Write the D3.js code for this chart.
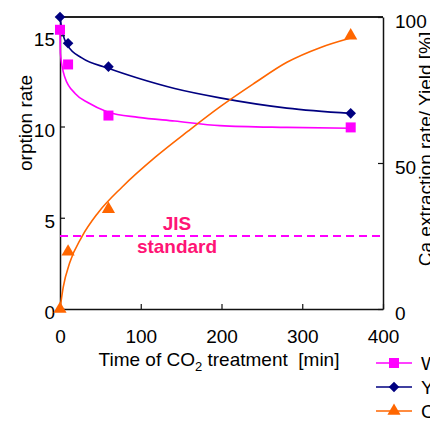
<!DOCTYPE html>
<html>
<head>
<meta charset="utf-8">
<script src="https://cdn.jsdelivr.net/npm/d3@7"></script>
<style>
  html, body { margin: 0; padding: 0; background: #fff; }
  svg { display: block; }
  text { font-family: "Liberation Sans", Arial, sans-serif; fill: #000; }
</style>
</head>
<body>
<svg id="chart" width="430" height="423"></svg>
<script>
// ---- data ----
const timeMin   = [0, 10, 60, 360];
const waterAbs  = [15.3, 13.4, 10.6, 9.95];   // left axis [%]
const yieldPct  = [100, 91, 83, 67];          // right axis [%]
const caExtract = [0, 19.6, 34.2, 93.6];      // right axis [%]

// fitted trend curves: [time, value]
const waterFitT  = [0, 0.5, 6, 19, 35, 59, 97, 142, 198, 281, 360];
const waterFitV  = [15.3, 14.0, 12.7, 11.8, 11.3, 10.8, 10.5, 10.3, 10.05, 9.95, 9.9];
const yieldFitT  = [0, 2.5, 10, 27, 59, 97, 142, 198, 281, 360];
const yieldFitV  = [100, 95.5, 90, 86, 82.5, 79, 75.5, 72.3, 68.8, 67];
const caFitT     = [0, 4, 12, 27, 47, 77, 118, 159, 198, 239, 281, 322, 360];
const caFitV     = [0, 7.5, 15.8, 24.7, 32.9, 41.8, 52, 61, 69.2, 77, 84.5, 89.5, 92.8];

const jisStandard = 4;   // left axis
const xTicks  = [0, 100, 200, 300, 400];
const yLTicks = [0, 5, 10, 15];
const yRTicks = [0, 50, 100];
const seriesNames = ["Water absorption rate", "Yield", "Ca extraction rate"];
const seriesColors = ["#ff00ff", "#000080", "#ff6600"];

// ---- scales ----
const svg = d3.select("#chart");
const X0 = 60, X1 = 383, Y0 = 309, Y1 = 17;
const x  = d3.scaleLinear().domain([0, 400]).range([X0, X1]);
const yL = d3.scaleLinear().domain([0, 16]).range([Y0, Y1]);
const yR = d3.scaleLinear().domain([0, 100]).range([Y0, Y1]);

// ---- frame (top) ----
svg.append("line").attr("x1", X0).attr("x2", X1).attr("y1", Y1).attr("y2", Y1)
  .attr("stroke", "#222").attr("stroke-width", 1.8);

// ---- axes ----
function styleAxis(g) {
  g.selectAll(".domain").attr("stroke", "#111").attr("stroke-width", 1.5);
  g.selectAll(".tick line").attr("stroke", "#111").attr("stroke-width", 1.2);
  g.selectAll(".tick text").attr("font-size", 19).attr("font-family", "Liberation Sans, Arial, sans-serif").attr("fill", "#000");
}
const gL = svg.append("g").attr("transform", `translate(${X0},0)`)
  .call(d3.axisLeft(yL).tickValues(yLTicks).tickSizeInner(-5).tickSizeOuter(0).tickPadding(5));
styleAxis(gL);
gL.selectAll(".tick text").attr("dy", "0.52em");

const gR = svg.append("g").attr("transform", `translate(${X1},0)`)
  .call(d3.axisRight(yR).tickValues(yRTicks).tickSizeInner(-5).tickSizeOuter(0).tickPadding(12));
styleAxis(gR);
gR.selectAll(".tick text").attr("dy", "0.55em");

const gB = svg.append("g").attr("transform", `translate(0,${Y0})`)
  .call(d3.axisBottom(x).tickValues(xTicks).tickSizeInner(-5).tickSizeOuter(0).tickPadding(21));
styleAxis(gB);

// ---- JIS standard ----
svg.append("line")
  .attr("x1", X0).attr("x2", X1).attr("y1", yL(jisStandard)).attr("y2", yL(jisStandard))
  .attr("stroke", "#ff00ff").attr("stroke-width", 2).attr("stroke-dasharray", "8,5");
svg.append("text").attr("x", 177).attr("y", 230).attr("text-anchor", "middle")
  .attr("font-size", 19).attr("font-weight", "bold").style("fill", "#ff1475").text("JIS");
svg.append("text").attr("x", 177).attr("y", 253).attr("text-anchor", "middle")
  .attr("font-size", 19).attr("font-weight", "bold").style("fill", "#ff1475").text("standard");

// ---- fitted curves ----
const lineGen = (ys) => d3.line().x(d => x(d[0])).y(d => ys(d[1])).curve(d3.curveMonotoneX);
const fits = [
  {t: waterFitT, v: waterFitV, s: yL, c: seriesColors[0]},
  {t: yieldFitT, v: yieldFitV, s: yR, c: seriesColors[1]},
  {t: caFitT,    v: caFitV,    s: yR, c: seriesColors[2]}
];
fits.forEach(f => {
  svg.append("path").datum(d3.zip(f.t, f.v))
    .attr("d", lineGen(f.s)).attr("fill", "none")
    .attr("stroke", f.c).attr("stroke-width", 1.6);
});

// ---- markers ----
const sqr = d3.symbol().type(d3.symbolSquare).size(100);
const dia = d3.symbol().type(d3.symbolSquare).size(56);   // rotated 45° below
const tri = d3.symbol().type(d3.symbolTriangle).size(75);
const markers = [
  {v: waterAbs,  s: yL, sym: sqr, c: seriesColors[0], rot: 0},
  {v: yieldPct,  s: yR, sym: dia, c: seriesColors[1], rot: 45},
  {v: caExtract, s: yR, sym: tri, c: seriesColors[2], rot: 0}
];
markers.forEach(m => {
  svg.append("g").selectAll("path").data(d3.zip(timeMin, m.v)).join("path")
    .attr("transform", d => `translate(${x(d[0])},${m.s(d[1])}) rotate(${m.rot})`)
    .attr("d", m.sym).attr("fill", m.c);
});

// ---- axis titles ----
const xt = svg.append("text").attr("x", 219).attr("y", 366).attr("text-anchor", "middle")
  .attr("font-size", 19).style("white-space", "pre");
xt.append("tspan").text("Time of CO");
xt.append("tspan").attr("font-size", 13).attr("dy", 5).text("2");
xt.append("tspan").attr("dy", -5).text(" treatment  [min]");

svg.append("defs").append("clipPath").attr("id", "leftClip")
  .append("rect").attr("x", 0).attr("y", 71).attr("width", 45).attr("height", 99);
svg.append("g").attr("clip-path", "url(#leftClip)")
  .append("text").attr("transform", "translate(32,149.5) rotate(-90)")
  .attr("text-anchor", "middle").attr("font-size", 19)
  .text("Water absorption rate [%]");

svg.append("text").attr("transform", "translate(431.5,149) rotate(-90)")
  .attr("text-anchor", "middle").attr("font-size", 19)
  .text("Ca extraction rate/ Yield [%]");

// ---- legend ----
const legY = [363, 387, 411];
const legSyms = [sqr, dia, tri];
const legRot = [0, 45, 0];
seriesNames.forEach((name, i) => {
  const g = svg.append("g");
  g.append("line").attr("x1", 376).attr("x2", 412).attr("y1", legY[i]).attr("y2", legY[i])
    .attr("stroke", seriesColors[i]).attr("stroke-width", 1.6);
  g.append("path").attr("transform", `translate(394,${legY[i]}) rotate(${legRot[i]})`)
    .attr("d", legSyms[i]).attr("fill", seriesColors[i]);
  g.append("text").attr("x", 421).attr("y", legY[i]).attr("dy", "0.36em").attr("font-size", 19).text(name);
});
</script>
</body>
</html>
